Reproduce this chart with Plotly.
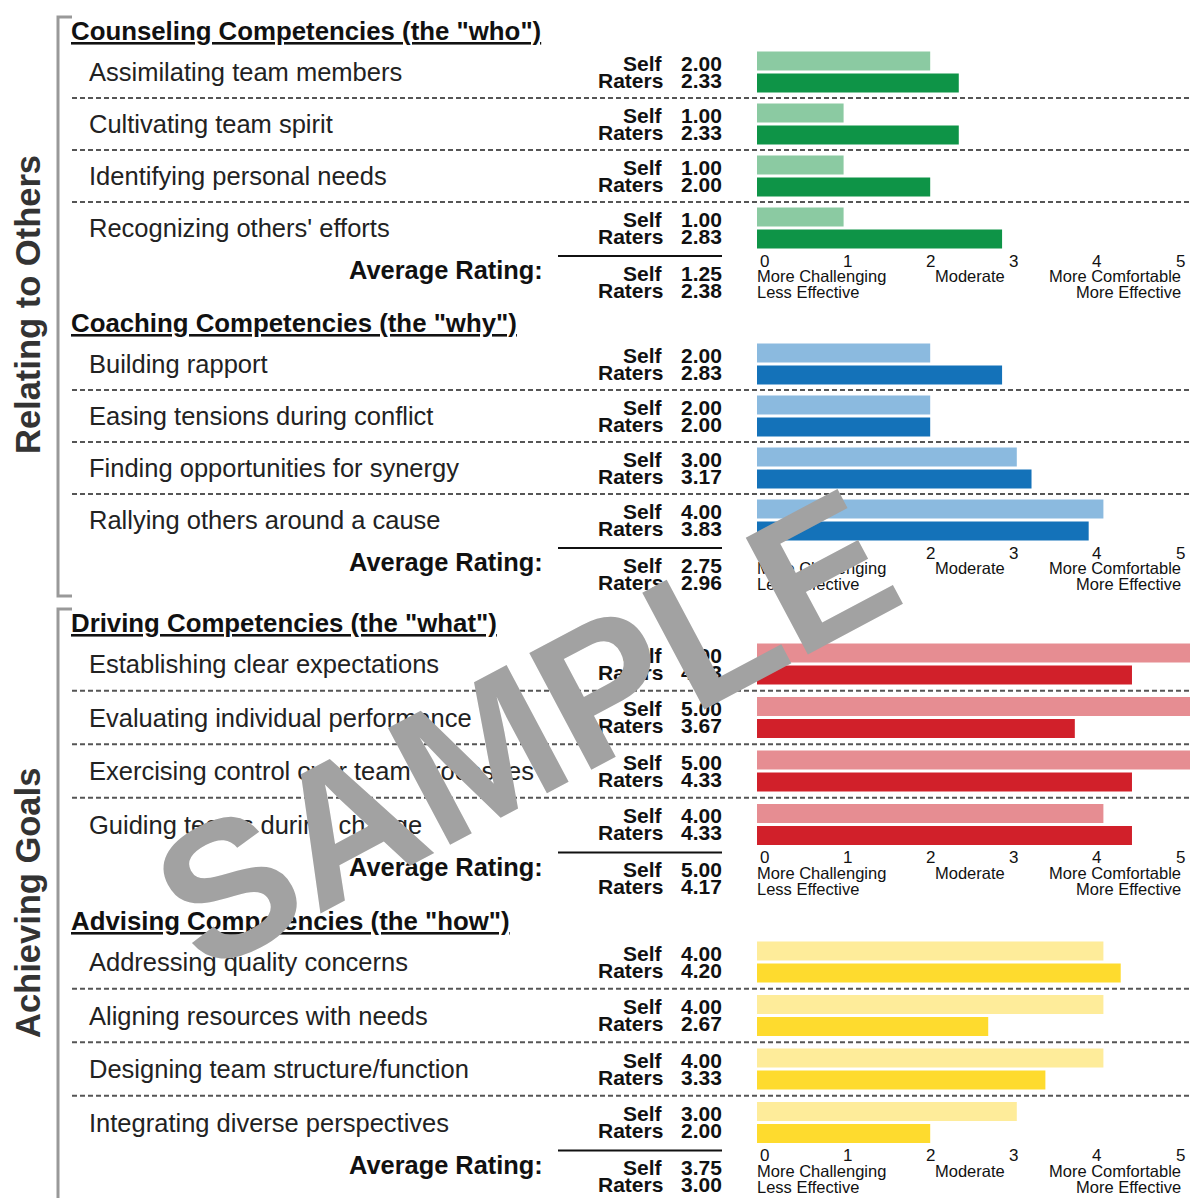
import plotly.graph_objects as go

W, H = 1190, 1198

# ---------------- data ----------------
group_labels = ["Relating to Others", "Achieving Goals"]
section_titles = [
    'Counseling Competencies (the "who")',
    'Coaching Competencies (the "why")',
    'Driving Competencies (the "what")',
    'Advising Competencies (the "how")',
]
items_counseling = ["Assimilating team members", "Cultivating team spirit",
                    "Identifying personal needs", "Recognizing others' efforts"]
items_coaching = ["Building rapport", "Easing tensions during conflict",
                  "Finding opportunities for synergy", "Rallying others around a cause"]
items_driving = ["Establishing clear expectations", "Evaluating individual performance",
                 "Exercising control over team processes", "Guiding teams during change"]
items_advising = ["Addressing quality concerns", "Aligning resources with needs",
                  "Designing team structure/function", "Integrating diverse perspectives"]

self_counseling = [2.00, 1.00, 1.00, 1.00]
raters_counseling = [2.33, 2.33, 2.00, 2.83]
self_coaching = [2.00, 2.00, 3.00, 4.00]
raters_coaching = [2.83, 2.00, 3.17, 3.83]
self_driving = [5.00, 5.00, 5.00, 4.00]
raters_driving = [4.33, 3.67, 4.33, 4.33]
self_advising = [4.00, 4.00, 4.00, 3.00]
raters_advising = [4.20, 2.67, 3.33, 2.00]

avg_self = [1.25, 2.75, 5.00, 3.75]
avg_raters = [2.38, 2.96, 4.17, 3.00]

scale_ticks = [0, 1, 2, 3, 4, 5]
light_colors = ["#8BCAA2", "#8BBADF", "#E68D92", "#FEEC9A"]
dark_colors = ["#0E9447", "#1472B9", "#D1202A", "#FEDB2E"]

items = [items_counseling, items_coaching, items_driving, items_advising]
selfs = [self_counseling, self_coaching, self_driving, self_advising]
raters = [raters_counseling, raters_coaching, raters_driving, raters_advising]

# ---------------- layout constants (pixels) ----------------
header_y = [31, 323, 623, 921]
pitch = [52, 52, 53.5, 53.5]
BAR_X0 = 757
SANS = "Liberation Sans, Arial, sans-serif"

def px(x):
    return x / W

fig = go.Figure()
annotations = []
shapes = []

def label(text, x, y, anchor, size, bold=False, color="#111", xref="paper", **kw):
    d = dict(text=text, x=x, xref=xref, y=y, yref="y", xanchor=anchor, yanchor="middle",
             showarrow=False, font=dict(family=SANS, size=size, color=color,
                                        weight="bold" if bold else "normal"))
    d.update(kw)
    annotations.append(d)

for s in range(4):
    rows = [header_y[s] + 41 + k * pitch[s] for k in range(4)]
    avg_t = rows[-1] + 42
    fig.add_trace(go.Bar(
        x=selfs[s], y=[r - 11 for r in rows], orientation="h", width=19,
        marker=dict(color=light_colors[s], line=dict(width=0)), showlegend=False,
        hoverinfo="x"))
    fig.add_trace(go.Bar(
        x=raters[s], y=[r + 11 for r in rows], orientation="h", width=19,
        marker=dict(color=dark_colors[s], line=dict(width=0)), showlegend=False,
        hoverinfo="x"))
    annotations.append(dict(
        text=section_titles[s], x=px(69), xref="paper", y=header_y[s], yref="y",
        xanchor="left", yanchor="middle", showarrow=False,
        font=dict(family=SANS, size=25.8, color="#111", weight="bold", lineposition="under")))
    for k in range(4):
        t = rows[k]
        label(items[s][k], px(87), t, "left", 25.5, color="#222")
        for lab, val, dy in (("Self", selfs[s][k], -9), ("Raters", raters[s][k], 8)):
            label(lab, px(665), t + dy, "right", 21, bold=True)
            label(f"{val:.2f}", px(724), t + dy, "right", 21, bold=True)
        if k < 3:
            yd = (rows[k] + rows[k + 1]) / 2
            shapes.append(dict(type="line", xref="paper", yref="y", x0=px(72), x1=1,
                               y0=yd, y1=yd, line=dict(color="#555", width=2, dash="5px,3px")))
    label("Average Rating:", px(545), avg_t, "right", 25.4, bold=True)
    for lab, val, dy in (("Self", avg_self[s], 3), ("Raters", avg_raters[s], 20)):
        label(lab, px(665), avg_t + dy, "right", 21, bold=True)
        label(f"{val:.2f}", px(724), avg_t + dy, "right", 21, bold=True)
    shapes.append(dict(type="line", xref="paper", yref="y", x0=px(558), x1=px(722),
                       y0=avg_t - 14, y1=avg_t - 14, line=dict(color="#111", width=2)))
    for v in scale_ticks:
        label(str(v), v, avg_t - 9, "center", 17, xref="x", xshift=7 - v * 3.4)
    label("More Challenging", 0, avg_t + 6, "left", 16.5, xref="x", xshift=-2)
    label("Less Effective", 0, avg_t + 22, "left", 16.5, xref="x", xshift=-2)
    label("Moderate", 2.46, avg_t + 6, "center", 16.5, xref="x")
    label("More Comfortable", 4.9, avg_t + 6, "right", 16.5, xref="x", xshift=2)
    label("More Effective", 4.9, avg_t + 22, "right", 16.5, xref="x", xshift=2)

# brackets
BR = "#999"
shapes += [
    dict(type="path", xref="paper", yref="y",
         path=f"M {px(72)} 17 L {px(58)} 17 L {px(58)} 596 L {px(72)} 596",
         line=dict(color=BR, width=3)),
    dict(type="path", xref="paper", yref="y",
         path=f"M {px(72)} 609 L {px(58)} 609 L {px(58)} 1205",
         line=dict(color=BR, width=3)),
]
label(group_labels[0], px(28), 305, "center", 34.5, bold=True, color="#333", textangle=-90)
label(group_labels[1], px(28), 903, "center", 34.5, bold=True, color="#333", textangle=-90)
# watermark
label("SAMPLE", px(525), 729, "center", 192, bold=True, color="#A2A2A2", textangle=-28)

fig.update_layout(
    width=W, height=H, margin=dict(l=0, r=0, t=0, b=0),
    paper_bgcolor="white", plot_bgcolor="white",
    barmode="overlay",
    xaxis=dict(domain=[px(BAR_X0), 1], range=[0, 5], visible=False, fixedrange=True),
    yaxis=dict(domain=[0, 1], range=[H, 0], visible=False, fixedrange=True),
    annotations=annotations, shapes=shapes,
)

fig.write_html("out.html", config={"displayModeBar": False},
               post_script="document.body.style.margin='0px';")
